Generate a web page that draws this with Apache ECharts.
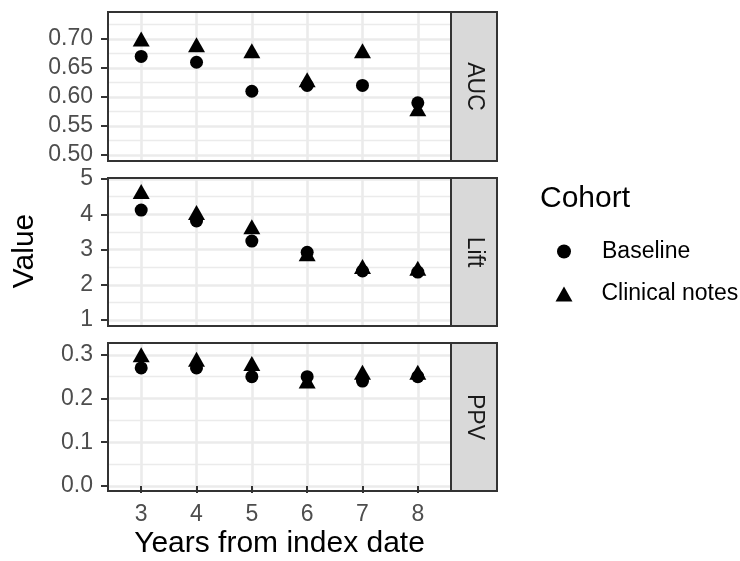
<!DOCTYPE html>
<html>
<head>
<meta charset="utf-8">
<script src="https://cdn.jsdelivr.net/npm/echarts@6/dist/echarts.min.js"></script>
<style>
  html, body { margin: 0; padding: 0; background: #fff; }
  #chart { width: 740px; height: 561px; }
</style>
</head>
<body>
<div id="chart"></div>
<script>
// data
const years = [3, 4, 5, 6, 7, 8];
const cohorts = ['Baseline', 'Clinical notes'];
const metrics = ['AUC', 'Lift', 'PPV'];

const aucBaseline = [0.67, 0.66, 0.61, 0.62, 0.62, 0.59];
const aucClinical = [0.70, 0.69, 0.68, 0.63, 0.68, 0.58];
const liftBaseline = [4.12, 3.81, 3.24, 2.92, 2.39, 2.36];
const liftClinical = [4.65, 4.05, 3.65, 2.88, 2.52, 2.47];
const ppvBaseline = [0.27, 0.27, 0.25, 0.25, 0.24, 0.25];
const ppvClinical = [0.30, 0.29, 0.28, 0.24, 0.26, 0.26];

const aucTicks = [0.50, 0.55, 0.60, 0.65, 0.70];
const liftTicks = [1, 2, 3, 4, 5];
const ppvTicks = [0.0, 0.1, 0.2, 0.3];

// layout (px)
const FONT = 'Liberation Sans, Arial, sans-serif';
const SMALL = 23, BIG = 30;
const left = 108, width = 343, stripW = 46;
const panels = [
  { top: 12, height: 149, min: 0.4897, max: 0.7466, ticks: aucTicks, digits: 2, data: [aucBaseline, aucClinical] },
  { top: 178, height: 148, min: 0.83, max: 5.03, ticks: liftTicks, digits: 0, data: [liftBaseline, liftClinical] },
  { top: 343, height: 148, min: -0.0115, max: 0.327, ticks: ppvTicks, digits: 1, data: [ppvBaseline, ppvClinical] }
];

// minor grid values halfway between major ticks
const minorsOf = (ticks) => {
  const step = ticks[1] - ticks[0];
  const out = [];
  for (let i = -1; i < ticks.length; i++) out.push(+(ticks[0] + step * (i + 0.5)).toFixed(4));
  return out;
};

const symbols = ['circle', 'triangle'];
const symbolSizes = [13, [17, 15]];

const grids = [], xAxes = [], yAxes = [], series = [], graphics = [];

panels.forEach((p, i) => {
  const last = i === panels.length - 1;
  grids.push({ left: left, top: p.top, width: width, height: p.height, containLabel: false });

  xAxes.push({
    type: 'value', gridIndex: i, min: 2.4, max: 8.6,
    axisLine: { show: false },
    axisTick: { show: last, length: 7, customValues: years, lineStyle: { color: '#333', width: 2 } },
    axisLabel: { show: last, customValues: years, margin: 12, color: '#4d4d4d', fontSize: SMALL, fontFamily: FONT },
    splitLine: { show: true, lineStyle: { color: '#ebebeb', width: 2.6 } },
    name: last ? 'Years from index date' : '',
    nameLocation: 'middle', nameGap: 38,
    nameTextStyle: { color: '#000', fontSize: BIG, fontFamily: FONT }
  });

  // minor horizontal grid
  yAxes.push({
    type: 'value', gridIndex: i, min: p.min, max: p.max, position: 'right',
    axisLine: { show: false }, axisLabel: { show: false },
    axisTick: { show: false, customValues: minorsOf(p.ticks) },
    splitLine: { show: true, lineStyle: { color: '#ebebeb', width: 1.3 } }
  });
  // major axis
  yAxes.push({
    type: 'value', gridIndex: i, min: p.min, max: p.max, position: 'left',
    axisLine: { show: false },
    axisTick: { show: true, length: 7, customValues: p.ticks, lineStyle: { color: '#333', width: 2 } },
    axisLabel: {
      customValues: p.ticks, margin: 15, color: '#4d4d4d', fontSize: SMALL, fontFamily: FONT,
      formatter: (v) => Number(v).toFixed(p.digits)
    },
    splitLine: { show: true, lineStyle: { color: '#ebebeb', width: 2.6 } }
  });

  p.data.forEach((vals, k) => {
    series.push({
      type: 'scatter', name: cohorts[k],
      xAxisIndex: i, yAxisIndex: i * 2 + 1,
      symbol: symbols[k], symbolSize: symbolSizes[k],
      itemStyle: { color: '#000', opacity: 1 },
      emphasis: { disabled: true },
      data: years.map((y, j) => [y, vals[j]])
    });
  });

  // panel border
  graphics.push({
    type: 'rect', z: 100,
    shape: { x: left, y: p.top, width: width, height: p.height },
    style: { fill: 'none', stroke: '#333', lineWidth: 2 }
  });
  // facet strip
  graphics.push({
    type: 'rect', z: 100,
    shape: { x: left + width, y: p.top, width: stripW, height: p.height },
    style: { fill: '#d9d9d9', stroke: '#333', lineWidth: 2 }
  });
  graphics.push({
    type: 'text', z: 101,
    x: left + width + stripW / 2, y: p.top + p.height / 2, rotation: -Math.PI / 2,
    style: { text: metrics[i], fill: '#1a1a1a', font: SMALL + 'px ' + FONT, align: 'center', verticalAlign: 'middle' }
  });
});

// y axis title
graphics.push({
  type: 'text', x: 25, y: 251, rotation: Math.PI / 2,
  style: { text: 'Value', fill: '#000', font: BIG + 'px ' + FONT, align: 'center', verticalAlign: 'middle' }
});
// legend title
graphics.push({
  type: 'text', x: 540, y: 199,
  style: { text: 'Cohort', fill: '#000', font: BIG + 'px ' + FONT, align: 'left', verticalAlign: 'middle' }
});

const option = {
  animation: false,
  backgroundColor: '#fff',
  grid: grids,
  xAxis: xAxes,
  yAxis: yAxes,
  legend: [
    {
      data: [{ name: cohorts[0], icon: 'circle' }], left: 552, top: 235, orient: 'vertical',
      itemWidth: 14, itemHeight: 14, selectedMode: false,
      textStyle: { color: '#000', fontSize: SMALL, fontFamily: FONT, padding: [0, 0, 0, 26] }
    },
    {
      data: [{ name: cohorts[1], icon: 'triangle' }], left: 550.5, top: 277.5, orient: 'vertical',
      itemWidth: 17, itemHeight: 15, selectedMode: false,
      textStyle: { color: '#000', fontSize: SMALL, fontFamily: FONT, padding: [0, 0, 0, 24] }
    }
  ],
  graphic: graphics,
  series: series
};

const chart = echarts.init(document.getElementById('chart'), null, { renderer: 'canvas' });
chart.setOption(option);
</script>
</body>
</html>
